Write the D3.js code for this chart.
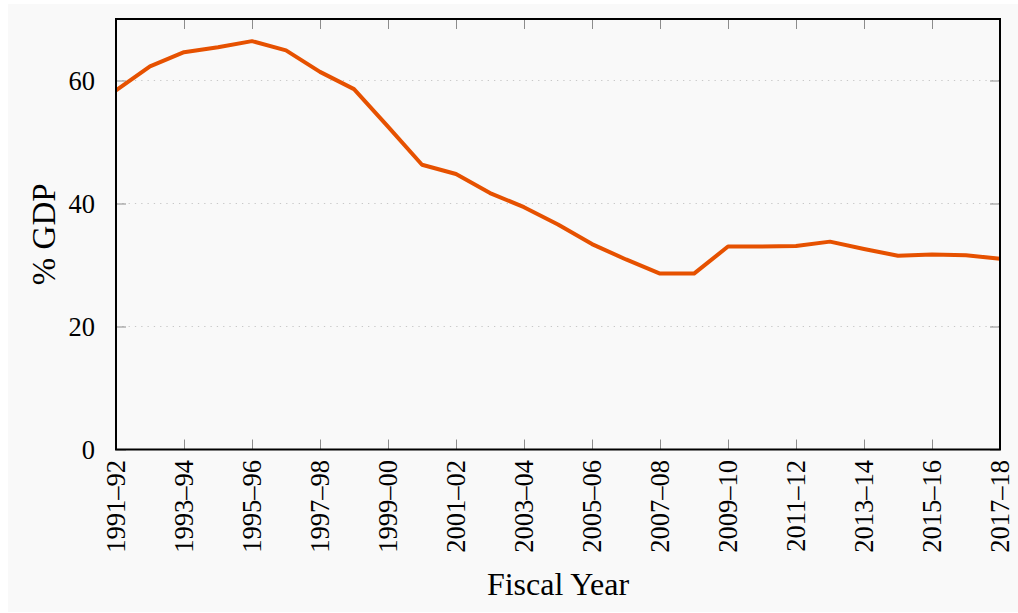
<!DOCTYPE html>
<meta charset="utf-8">
<style>
body { margin: 0; background: #fff; }
text { font-family: "Liberation Serif", "DejaVu Serif", serif; fill: #000; }
.grid line { stroke: #c8c8c8; stroke-width: 1; stroke-dasharray: 1.3,5; }
.tick line { stroke: #8c8c8c; stroke-width: 1; }
.frame { fill: none; stroke: #000; stroke-width: 2; }
.series { fill: none; stroke: #e65100; stroke-width: 4; stroke-linejoin: round; }
</style>
<body>
<svg width="1018" height="613"></svg>
<script src="https://cdn.jsdelivr.net/npm/d3@7"></script>
<script>

// fiscal years, 1991-92 .. 2017-18
var years = d3.range(1991, 2018).map(function(y) {
  return y + "\u2013" + String((y + 1) % 100).padStart(2, "0");
});
var debt = [58.4, 62.3, 64.6, 65.4, 66.4, 64.9, 61.4, 58.6, 52.5, 46.3,
            44.8, 41.7, 39.4, 36.6, 33.4, 30.9, 28.6, 28.6, 33.0, 33.0,
            33.1, 33.8, 32.6, 31.5, 31.7, 31.6, 31.0];
var yTicks = [0, 20, 40, 60];

var svg = d3.select("svg");
var m = {left: 116, right: 1000, top: 19, bottom: 449.5};

svg.append("rect")
    .attr("x", 8).attr("y", 4)
    .attr("width", 1010).attr("height", 608)
    .attr("fill", "#f9f9f9");

var x = d3.scaleLinear().domain([0, years.length - 1]).range([m.left, m.right]);
var y = d3.scaleLinear().domain([0, 70]).range([m.bottom, m.top]);

// dotted grid
svg.append("g").attr("class", "grid")
  .selectAll("line")
  .data(yTicks.filter(function(d) { return d > 0; }))
  .enter().append("line")
    .attr("x1", m.left).attr("x2", m.right)
    .attr("y1", y).attr("y2", y);

var xTickIdx = d3.range(0, years.length, 2);

// bottom axis (ticks inward) + rotated labels
var xb = svg.append("g").attr("transform", "translate(0," + m.bottom + ")")
  .call(d3.axisBottom(x).tickValues(xTickIdx).tickSize(-10).tickFormat(""));
xb.select(".domain").remove();

svg.append("g").selectAll("text")
  .data(xTickIdx)
  .enter().append("text")
    .attr("transform", function(i) { return "translate(" + x(i) + ",460) rotate(-90)"; })
    .attr("text-anchor", "end")
    .attr("dy", "0.33em")
    .style("font-size", "26.5px")
    .text(function(i) { return years[i]; });

// top axis ticks
var xt = svg.append("g").attr("transform", "translate(0," + m.top + ")")
  .call(d3.axisTop(x).tickValues(xTickIdx).tickSize(-10).tickFormat(""));
xt.select(".domain").remove();

// left axis
var yl = svg.append("g").attr("transform", "translate(" + m.left + ",0)")
  .call(d3.axisLeft(y).tickValues(yTicks).tickSize(-10).tickPadding(21));
yl.select(".domain").remove();
yl.selectAll("text").style("font-size", "26.5px").attr("dy", "0.33em")
  .style("font-family", "Liberation Serif");

// right axis
var yr = svg.append("g").attr("transform", "translate(" + m.right + ",0)")
  .call(d3.axisRight(y).tickValues(yTicks).tickSize(-10).tickFormat(""));
yr.select(".domain").remove();

var line = d3.line()
    .x(function(d, i) { return x(i); })
    .y(function(d) { return y(d); });

svg.append("path")
    .datum(debt)
    .attr("class", "series")
    .attr("d", line);

svg.append("rect").attr("class", "frame")
    .attr("x", m.left).attr("y", m.top)
    .attr("width", m.right - m.left).attr("height", m.bottom - m.top);

svg.append("text")
    .attr("x", (m.left + m.right) / 2).attr("y", 595)
    .attr("text-anchor", "middle")
    .style("font-size", "32px")
    .text("Fiscal Year");

svg.append("text")
    .attr("transform", "translate(55," + (m.top + m.bottom) / 2 + ") rotate(-90)")
    .attr("text-anchor", "middle")
    .style("font-size", "33px")
    .text("% GDP");

</script>
</body>
